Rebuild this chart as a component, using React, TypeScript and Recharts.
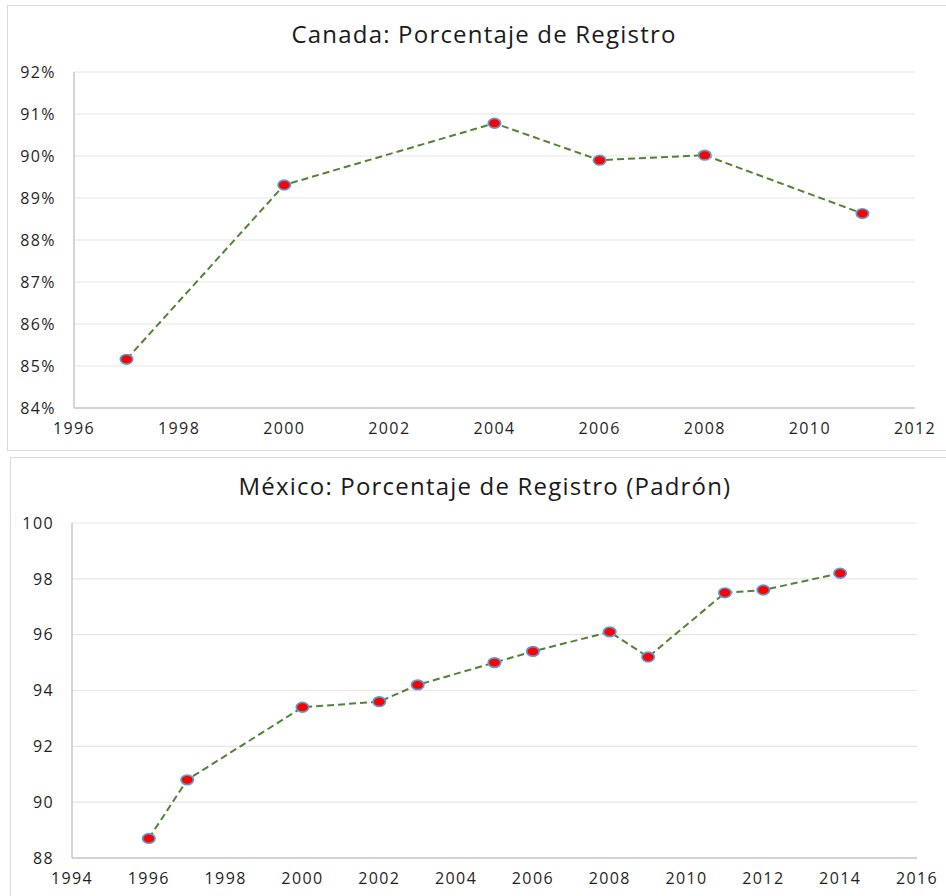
import { LineChart, Line, XAxis, YAxis, CartesianGrid } from 'recharts';

const canadaYears = [1997, 2000, 2004, 2006, 2008, 2011];
const canadaValues = [85.16, 89.31, 90.78, 89.9, 90.02, 88.63];
const canadaXTicks = [1996, 1998, 2000, 2002, 2004, 2006, 2008, 2010, 2012];
const canadaYTicks = [84, 85, 86, 87, 88, 89, 90, 91, 92];

const mexicoYears = [1996, 1997, 2000, 2002, 2003, 2005, 2006, 2008, 2009, 2011, 2012, 2014];
const mexicoValues = [88.7, 90.8, 93.4, 93.6, 94.2, 95.0, 95.4, 96.1, 95.2, 97.5, 97.6, 98.2];
const mexicoXTicks = [1994, 1996, 1998, 2000, 2002, 2004, 2006, 2008, 2010, 2012, 2014, 2016];
const mexicoYTicks = [88, 90, 92, 94, 96, 98, 100];

const FONT = '"Open Sans", "DejaVu Sans", sans-serif';
// the original text is a bit wider than Open Sans, hence the letter spacing
const tickStyle = { fill: '#1f1f1f', fontSize: 16, fontFamily: FONT, letterSpacing: 1.4 };

// red marker with blue outline, a bit wider than tall like the original
const Marker = (props: any) => {
  const { cx, cy, index } = props;
  if (cx == null || cy == null) return <g key={index} />;
  return <ellipse key={index} cx={cx} cy={cy} rx={6.2} ry={4.8} fill="#ff0000" stroke="#5b9bd5" strokeWidth={1.7} />;
};

export default function App() {
  const canadaData = canadaYears.map((year, i) => ({ year, value: canadaValues[i] }));
  const mexicoData = mexicoYears.map((year, i) => ({ year, value: mexicoValues[i] }));

  const titleStyle = {
    position: 'absolute' as const,
    width: 800,
    textAlign: 'center' as const,
    fontFamily: FONT,
    fontSize: 24,
    letterSpacing: 1.2,
    color: '#1a1a1a',
    whiteSpace: 'nowrap' as const,
  };

  return (
    <div style={{ position: 'absolute', left: 0, top: 0, width: 946, height: 896, background: '#fff', overflow: 'hidden' }}>
      {/* Canada */}
      <div style={{ position: 'absolute', left: 7, top: 5, width: 950, height: 444, border: '1px solid #d9d9d9', background: '#fff' }}>
        <div style={{ ...titleStyle, left: 476 - 400, top: 11 }}>Canada: Porcentaje de Registro</div>
        <LineChart width={939} height={444} data={canadaData} margin={{ top: 66, right: 32, left: 16, bottom: 12 }}>
          <CartesianGrid vertical={false} stroke="#e6e6e6" strokeWidth={1.2} />
          <XAxis
            dataKey="year"
            type="number"
            domain={[1996, 2012]}
            ticks={canadaXTicks}
            tickLine={false}
            tickSize={6}
            tickMargin={9}
            height={30}
            axisLine={{ stroke: '#c8c8c8', strokeWidth: 1.5 }}
            tick={tickStyle}
          />
          <YAxis
            type="number"
            domain={[84, 92]}
            ticks={canadaYTicks}
            tickFormatter={(v) => `${v}%`}
            tickLine={false}
            tickSize={6}
            tickMargin={12}
            width={50}
            axisLine={{ stroke: '#c8c8c8', strokeWidth: 1.5 }}
            tick={tickStyle}
          />
          <Line
            dataKey="value"
            stroke="#548235"
            strokeWidth={2}
            strokeDasharray="7 4"
            dot={<Marker />}
            activeDot={false}
            isAnimationActive={false}
          />
        </LineChart>
      </div>

      {/* México */}
      <div style={{ position: 'absolute', left: 10, top: 457, width: 950, height: 460, border: '1px solid #d9d9d9', background: '#fff' }}>
        <div style={{ ...titleStyle, left: 474 - 400, top: 11 }}>México: Porcentaje de Registro (Padrón)</div>
        <LineChart width={936} height={438} data={mexicoData} margin={{ top: 65, right: 30, left: 11, bottom: 8 }}>
          <CartesianGrid vertical={false} stroke="#e6e6e6" strokeWidth={1.2} />
          <XAxis
            dataKey="year"
            type="number"
            domain={[1994, 2016]}
            ticks={mexicoXTicks}
            tickLine={false}
            tickSize={6}
            tickMargin={9}
            height={30}
            axisLine={{ stroke: '#c8c8c8', strokeWidth: 1.5 }}
            tick={tickStyle}
          />
          <YAxis
            type="number"
            domain={[88, 100]}
            ticks={mexicoYTicks}
            tickLine={false}
            tickSize={6}
            tickMargin={12}
            width={50}
            axisLine={{ stroke: '#c8c8c8', strokeWidth: 1.5 }}
            tick={tickStyle}
          />
          <Line
            dataKey="value"
            stroke="#548235"
            strokeWidth={2}
            strokeDasharray="7 4"
            dot={<Marker />}
            activeDot={false}
            isAnimationActive={false}
          />
        </LineChart>
      </div>
    </div>
  );
}
